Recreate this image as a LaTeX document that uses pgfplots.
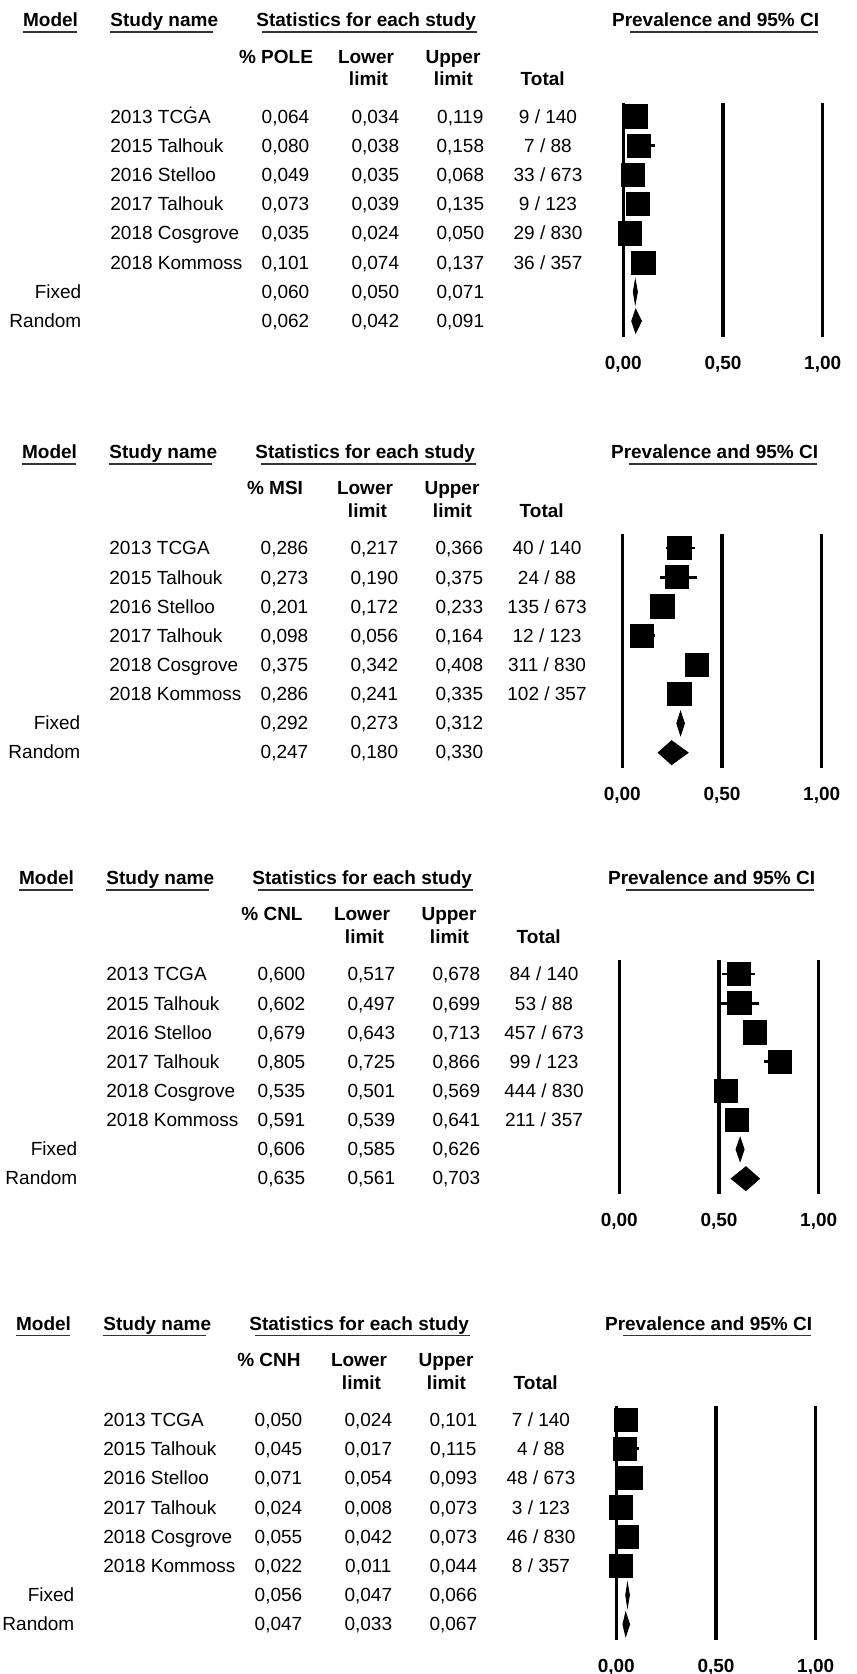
\documentclass[border=0pt]{standalone}
\usepackage{pgfplots}
\pgfplotsset{compat=1.18}
\usepackage{pgfplotstable}
\usepackage{fontspec}
\setmainfont{Liberation Sans}

% ---------- data: study estimates ----------
\pgfplotstableread{
est lo hi
0.064 0.034 0.119
0.080 0.038 0.158
0.049 0.035 0.068
0.073 0.039 0.135
0.035 0.024 0.050
0.101 0.074 0.137
}\pole
\pgfplotstableread{
est lo hi
0.286 0.217 0.366
0.273 0.190 0.375
0.201 0.172 0.233
0.098 0.056 0.164
0.375 0.342 0.408
0.286 0.241 0.335
}\msi
\pgfplotstableread{
est lo hi
0.600 0.517 0.678
0.602 0.497 0.699
0.679 0.643 0.713
0.805 0.725 0.866
0.535 0.501 0.569
0.591 0.539 0.641
}\cnl
\pgfplotstableread{
est lo hi
0.050 0.024 0.101
0.045 0.017 0.115
0.071 0.054 0.093
0.024 0.008 0.073
0.055 0.042 0.073
0.022 0.011 0.044
}\cnh

\newcommand\fs{\fontsize{9.5}{11}\selectfont}
\pgfplotsset{fp/.style={anchor=origin, disabledatascaling,
  x=99.7pt, y=0.5pt, xmin=-0.1, xmax=1.1, ymin=-369.3, ymax=0,
  clip=false, axis line style={draw=none}, tick style={draw=none},
  major tick length=0pt, ytick=\empty, xtick={0,0.5,1},
  xticklabels={{\textbf{0,00}},{\textbf{0,50}},{\textbf{1,00}}},
  xticklabel style={anchor=base, inner sep=0pt, font=\fs\bfseries}}}
\tikzset{R/.style={font=\fs, inner sep=0pt},
         B/.style={font=\fs\bfseries, inner sep=0pt},
         ul/.style={draw=black!80, line width=0.85pt}}

% forest plot part of one panel: #1,#2 origin; #3 study table;
% #4..#6 fixed (lo est hi); #7..#9 random (lo est hi)
\newcommand\forest[9]{%
\begin{axis}[fp, at={(#1,#2)}]
  \addplot[black, line width=1.65pt] coordinates {(0,-102.7) (0,-336.7)};
  \addplot[black, line width=1.65pt] coordinates {(0.5,-102.7) (0.5,-336.7)};
  \addplot[black, line width=1.65pt] coordinates {(1,-102.7) (1,-336.7)};
  \addplot[black, only marks, mark=square*, mark size=5.8pt,
    error bars/.cd, x dir=both, x explicit, error mark=none,
    error bar style={line width=1.4pt}]
    table[x=est, y expr={-(116.3+29.25*\coordindex)},
      x error plus expr={\thisrow{hi}-\thisrow{est}},
      x error minus expr={\thisrow{est}-\thisrow{lo}}] {#3};
  \addplot[black, fill=black] coordinates {(#4,-291.8) (#5,-279.8) (#6,-291.8) (#5,-303.8)} --cycle;
  \addplot[black, fill=black] coordinates {(#7,-321.05) (#8,-309.05) (#9,-321.05) (#8,-333.05)} --cycle;
\end{axis}}

\newcommand\hdr[1]{%
  \node[B,anchor=base west] at (22.7,26.7) {Model};
  \draw[ul] (22.7,32.3) -- (77.3,32.3);
  \node[B,anchor=base west] at (110,26.7) {Study name};
  \draw[ul] (110,32.3) -- (213,32.3);
  \node[B,anchor=base west] at (256,26.7) {Statistics for each study};
  \draw[ul] (261.7,32.3) -- (476.7,32.3);
  \node[B,anchor=base west] at (611.7,26.7) {Prevalence and 95\% CI};
  \draw[ul] (630,32.3) -- (818,32.3);
  \node[B,anchor=base] at (276,63.3) {\% #1};
  \node[B,anchor=base] at (366,63.3) {Lower};
  \node[B,anchor=base] at (368.5,86) {limit};
  \node[B,anchor=base] at (453,63.3) {Upper};
  \node[B,anchor=base] at (453.5,86) {limit};
  \node[B,anchor=base] at (542.7,86) {Total};}
\newcommand\row[6]{%
  \node[R,anchor=base west] at (110,{123.3+29.15*#1}) {#2};
  \node[R,anchor=base] at (285.5,{123.3+29.15*#1}) {#3};
  \node[R,anchor=base] at (375.3,{123.3+29.15*#1}) {#4};
  \node[R,anchor=base] at (460.3,{123.3+29.15*#1}) {#5};
  \node[R,anchor=base] at (548,{123.3+29.15*#1}) {#6};}
\newcommand\pool[5]{%
  \node[R,anchor=base east] at (81.7,{123.3+29.15*#1}) {#2};
  \node[R,anchor=base] at (285.5,{123.3+29.15*#1}) {#3};
  \node[R,anchor=base] at (375.3,{123.3+29.15*#1}) {#4};
  \node[R,anchor=base] at (460.3,{123.3+29.15*#1}) {#5};}

\begin{document}
\begin{tikzpicture}[x=0.5pt,y=-0.5pt]
\path[use as bounding box] (0,0) rectangle (856,1674);

% ---------------- panel 1: POLE ----------------
\begin{scope}[shift={(0,0)}]
\hdr{POLE}
\row{0}{2013 TCĠA}{0,064}{0,034}{0,119}{9 / 140}
\row{1}{2015 Talhouk}{0,080}{0,038}{0,158}{7 / 88}
\row{2}{2016 Stelloo}{0,049}{0,035}{0,068}{33 / 673}
\row{3}{2017 Talhouk}{0,073}{0,039}{0,135}{9 / 123}
\row{4}{2018 Cosgrove}{0,035}{0,024}{0,050}{29 / 830}
\row{5}{2018 Kommoss}{0,101}{0,074}{0,137}{36 / 357}
\pool{6}{Fixed}{0,060}{0,050}{0,071}
\pool{7}{Random}{0,062}{0,042}{0,091}
\end{scope}
\forest{311.65pt}{0pt}{\pole}{0.050}{0.060}{0.071}{0.042}{0.062}{0.091}

% ---------------- panel 2: MSI ----------------
\begin{scope}[shift={(-1,431.6)}]
\hdr{MSI}
\row{0}{2013 TCGA}{0,286}{0,217}{0,366}{40 / 140}
\row{1}{2015 Talhouk}{0,273}{0,190}{0,375}{24 / 88}
\row{2}{2016 Stelloo}{0,201}{0,172}{0,233}{135 / 673}
\row{3}{2017 Talhouk}{0,098}{0,056}{0,164}{12 / 123}
\row{4}{2018 Cosgrove}{0,375}{0,342}{0,408}{311 / 830}
\row{5}{2018 Kommoss}{0,286}{0,241}{0,335}{102 / 357}
\pool{6}{Fixed}{0,292}{0,273}{0,312}
\pool{7}{Random}{0,247}{0,180}{0,330}
\end{scope}
\forest{311.15pt}{-215.8pt}{\msi}{0.273}{0.292}{0.312}{0.180}{0.247}{0.330}

% ---------------- panel 3: CNL ----------------
\begin{scope}[shift={(-4,857.6)}]
\hdr{CNL}
\row{0}{2013 TCGA}{0,600}{0,517}{0,678}{84 / 140}
\row{1}{2015 Talhouk}{0,602}{0,497}{0,699}{53 / 88}
\row{2}{2016 Stelloo}{0,679}{0,643}{0,713}{457 / 673}
\row{3}{2017 Talhouk}{0,805}{0,725}{0,866}{99 / 123}
\row{4}{2018 Cosgrove}{0,535}{0,501}{0,569}{444 / 830}
\row{5}{2018 Kommoss}{0,591}{0,539}{0,641}{211 / 357}
\pool{6}{Fixed}{0,606}{0,585}{0,626}
\pool{7}{Random}{0,635}{0,561}{0,703}
\end{scope}
\forest{309.65pt}{-428.8pt}{\cnl}{0.585}{0.606}{0.626}{0.561}{0.635}{0.703}

% ---------------- panel 4: CNH ----------------
\begin{scope}[shift={(-7,1303.3)}]
\hdr{CNH}
\row{0}{2013 TCGA}{0,050}{0,024}{0,101}{7 / 140}
\row{1}{2015 Talhouk}{0,045}{0,017}{0,115}{4 / 88}
\row{2}{2016 Stelloo}{0,071}{0,054}{0,093}{48 / 673}
\row{3}{2017 Talhouk}{0,024}{0,008}{0,073}{3 / 123}
\row{4}{2018 Cosgrove}{0,055}{0,042}{0,073}{46 / 830}
\row{5}{2018 Kommoss}{0,022}{0,011}{0,044}{8 / 357}
\pool{6}{Fixed}{0,056}{0,047}{0,066}
\pool{7}{Random}{0,047}{0,033}{0,067}
\end{scope}
\forest{308.15pt}{-651.65pt}{\cnh}{0.047}{0.056}{0.066}{0.033}{0.047}{0.067}
\end{tikzpicture}
\end{document}
